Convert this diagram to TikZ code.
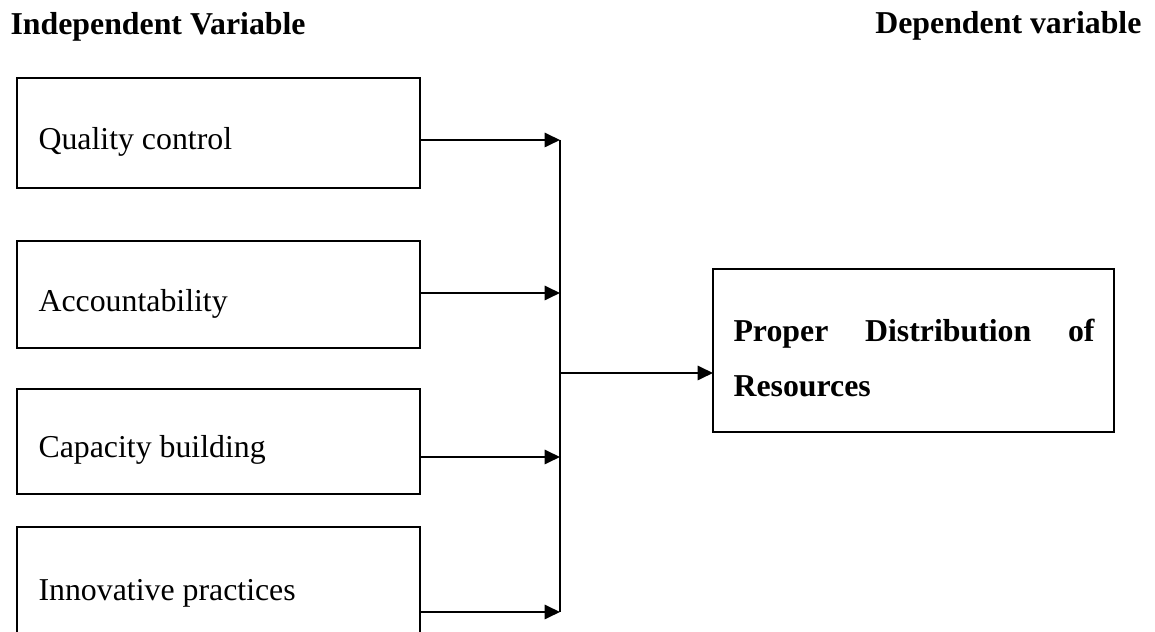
\documentclass[tikz,border=0pt]{standalone}
\usepackage{fontspec}
\setmainfont{Liberation Serif}
\usetikzlibrary{arrows.meta,positioning}

\begin{document}
\begin{tikzpicture}[
  x=0.377pt, y=-0.377pt,
  heading/.style={font=\fontsize{12}{14}\bfseries, inner sep=0pt},
  varbox/.style={draw, line width=0.75pt, anchor=north west,
                 minimum width=151.9pt, inner sep=0pt, outer sep=0pt},
  label/.style={font=\fontsize{12}{14}\selectfont, anchor=base west, inner sep=0pt},
  flow/.style={-{Triangle[length=5.8pt, width=5.4pt]}, line width=0.75pt},
]
\useasboundingbox (0,0) rectangle (1155,632);

% Headings
\node[heading, anchor=base west] (indep) at (10,35) {Independent Variable};
\node[heading, anchor=base east] (dep) at (1142,34) {Dependent variable};

% Independent variables
\node[varbox, minimum height=41.5pt] (qc) at (17,78) {};
\node[label] (qctext) at (38,150) {Quality control};

\node[varbox, minimum height=40.3pt] (acc) at (17,241) {};
\node[label] (acctext) at (38,312) {Accountability};

\node[varbox, minimum height=39.6pt] (cap) at (17,389) {};
\node[label] (captext) at (38,458) {Capacity building};

\node[varbox, minimum height=44pt] (inn) at (17,527) {};
\node[label] (inntext) at (38,601) {Innovative practices};

% Dependent variable
\node[draw, line width=0.75pt, anchor=north west, minimum width=151.2pt,
      minimum height=61.5pt, inner sep=0pt, outer sep=0pt] (pdr) at (713,269) {};
\node[anchor=base west, inner sep=0pt, text width=136.1pt, align=justify,
      font=\fontsize{12}{20.7}\bfseries] (pdrtext) at (733,342)
  {Proper Distribution of\linebreak Resources};

% Arrows into the bus
\coordinate (qcout) at (420,140);
\coordinate (accout) at (420,293);
\coordinate (capout) at (420,457);
\coordinate (innout) at (420,612);
\coordinate (bustop) at (560,140);
\coordinate (busbot) at (560,612);
\coordinate (busout) at (560,373);

\foreach \src in {qcout,accout,capout,innout}
  \draw[flow] (\src) -- (\src -| bustop);

\draw[line width=0.75pt] (bustop) -- (busbot);
\draw[flow] (busout) -- (busout -| pdr.west);

\end{tikzpicture}
\end{document}
